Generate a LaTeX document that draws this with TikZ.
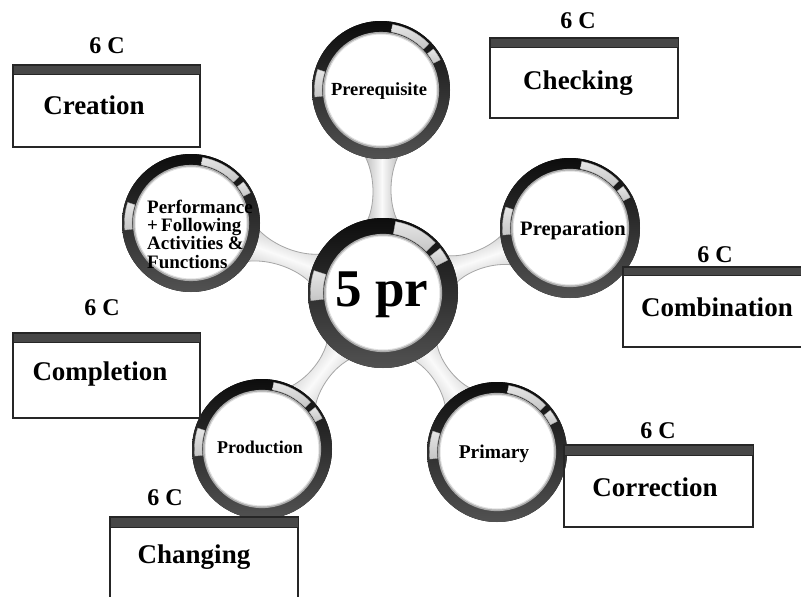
\documentclass[tikz,border=0pt]{standalone}
\usepackage{fontspec}
\setmainfont{Liberation Serif}
\usetikzlibrary{calc}
\tikzset{
  lbl/.style={font=\bfseries\fontsize{27}{30}\selectfont, inner sep=0pt, anchor=base},
  sixc/.style={font=\bfseries\fontsize{24}{28}\selectfont, inner sep=0pt, anchor=base},
  ctext/.style={font=\bfseries\fontsize{#1}{18.5}\selectfont, inner sep=0pt, anchor=base},
  boxline/.style={draw=black!85, line width=1.2pt},
  barfill/.style={fill=black!72, draw=black!85, line width=0.8pt},
  spokestyle/.style={draw=gray!70, line width=0.8pt, top color=gray!70, bottom color=gray!70, middle color=gray!4, shading angle=#1},
}
\newcommand\drawring[3]{%
  \pgfmathsetmacro\ro{#2-2.5}%
  \pgfmathsetmacro\ri{#3+3}%
  \pgfmathsetmacro\rb{#3+1}%
  \fill[top color=black!95, bottom color=black!68] (#1) circle[radius=#2pt];
  \foreach \a/\b in {44/80, 27/38, 162/186}{
    \filldraw[top color=gray!20, bottom color=gray!45, draw=gray!60, line width=0.4pt]
      ($(#1)+(\a:\ro pt)$) arc[start angle=\a, end angle=\b, radius=\ro pt]
      -- ($(#1)+(\b:\ri pt)$) arc[start angle=\b, end angle=\a, radius=\ri pt] -- cycle;
  }
  \draw[gray!65, line width=2.2pt] (#1) circle[radius=\rb pt];
  \fill[white] (#1) circle[radius=#3pt];
  \draw[gray!25, line width=1pt] (#1) circle[radius=#3pt];
}
\newcommand\spoke[3]{%
  \path[spokestyle=#3]
   ($(#1)!60pt!(#2)!24pt!90:(#2)$)
     .. controls ($(#1)!0.38!(#2)!4pt!90:(#2)$) and ($(#1)!0.62!(#2)!4pt!90:(#2)$) ..
   ($(#2)!55pt!(#1)!24pt!-90:(#1)$)
   -- ($(#2)!55pt!(#1)!24pt!90:(#1)$)
     .. controls ($(#1)!0.62!(#2)!4pt!-90:(#2)$) and ($(#1)!0.38!(#2)!4pt!-90:(#2)$) ..
   ($(#1)!60pt!(#2)!24pt!-90:(#2)$) -- cycle;
}
\begin{document}
\begin{tikzpicture}[x=1pt, y=-1pt]
\useasboundingbox (0,0) rectangle (801,597);
\fill[white] (0,0) rectangle (801,597);

% circle centres
\coordinate (cen) at (383,293);
\coordinate (pre) at (381,90);
\coordinate (perf) at (191,223);
\coordinate (prep) at (570,228);
\coordinate (prod) at (262,449);
\coordinate (prim) at (497,452);

% spokes
\spoke{cen}{pre}{90}
\spoke{cen}{perf}{160}
\spoke{cen}{prep}{19}
\spoke{cen}{prod}{52}
\spoke{cen}{prim}{126}

% rings
\drawring{cen}{75}{57}
\drawring{pre}{69}{56}
\drawring{perf}{69}{56}
\drawring{prep}{70}{57}
\drawring{prod}{70}{57}
\drawring{prim}{70}{57}

% circle texts
\node[font=\bfseries\fontsize{53}{56}\selectfont, inner sep=0pt, anchor=base] (t5pr) at (382,306) {5 pr};
\node[ctext=18.5] (tpre) at (379,95) {Prerequisite};
\node[ctext=20.5] (tprep) at (573,235) {Preparation};
\node[ctext=18] (tprod) at (260,453) {Production};
\node[ctext=19.5] (tprim) at (494,458) {Primary};
\node[font=\bfseries\fontsize{19}{18.3}\selectfont, inner sep=0pt, anchor=west, align=left] (tperf) at (147,234)
  {Performance\\+\,Following\\Activities \&\\Functions};

% boxes
% Creation
\draw[boxline] (13,65) rectangle (200,147);
\fill[barfill] (13,65) rectangle (200,74);
\node[sixc] (c1) at (107,53) {6 C};
\node[lbl] (creation) at (94,114) {Creation};
% Checking
\draw[boxline] (490,38) rectangle (678,118);
\fill[barfill] (490,38) rectangle (678,47);
\node[sixc] (c2) at (578,28) {6 C};
\node[lbl] (checking) at (578,89) {Checking};
% Combination
\draw[boxline] (623,267) rectangle (806,347);
\fill[barfill] (623,267) rectangle (806,275);
\node[sixc] (c3) at (715,262) {6 C};
\node[lbl] (combination) at (717,316) {Combination};
% Completion
\draw[boxline] (13,333) rectangle (200,418);
\fill[barfill] (13,333) rectangle (200,342);
\node[sixc] (c4) at (102,315) {6 C};
\node[lbl] (completion) at (100,380) {Completion};
% Correction
\draw[boxline] (564,445) rectangle (753,527);
\fill[barfill] (564,445) rectangle (753,455);
\node[sixc] (c5) at (658,438) {6 C};
\node[lbl] (correction) at (655,496) {Correction};
% Changing
\draw[boxline] (110,517) rectangle (298,610);
\fill[barfill] (110,517) rectangle (298,527);
\node[sixc] (c6) at (165,505) {6 C};
\node[lbl] (changing) at (194,563) {Changing};
\end{tikzpicture}
\end{document}
